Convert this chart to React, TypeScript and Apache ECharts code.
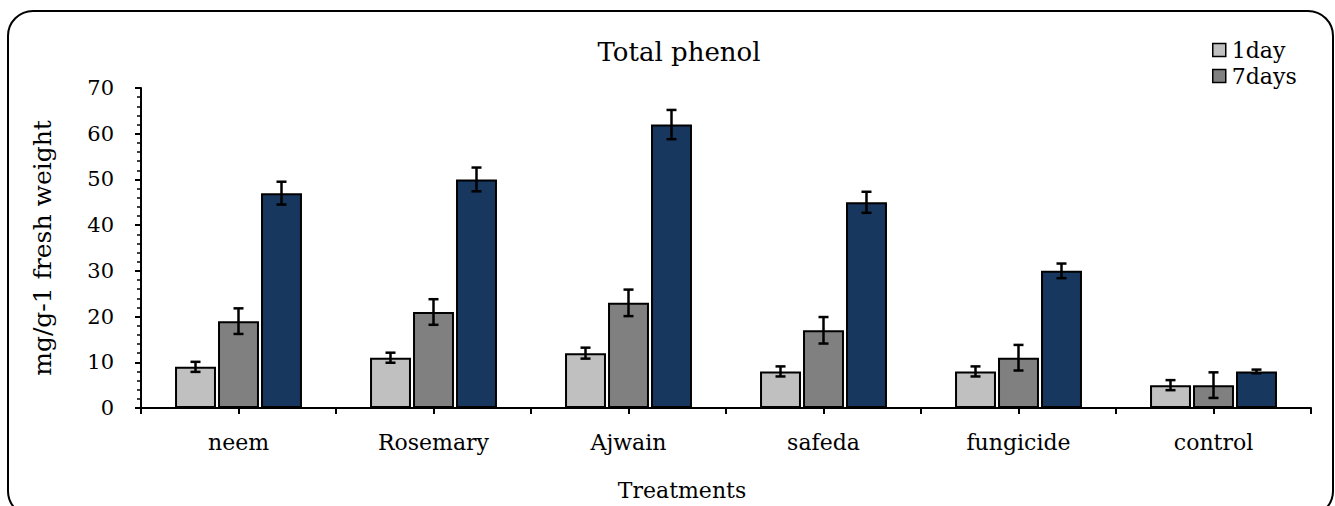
import React, { useEffect, useRef } from "react";
import * as echarts from "echarts";

const categories = ["neem", "Rosemary", "Ajwain", "safeda", "fungicide", "control"];
const seriesNames = ["1day", "7days", "14days"];
const day1 = [9, 11, 12, 8, 8, 5];
const day7 = [19, 21, 23, 17, 11, 5];
const day14 = [47, 50, 62, 45, 30, 8];
const err1 = [1.1, 1.1, 1.2, 1.1, 1.1, 1.1];
const err7 = [2.8, 2.8, 2.9, 2.9, 2.8, 2.8];
const err14 = [2.5, 2.6, 3.2, 2.3, 1.6, 0.4];
const colors = ["#C0C0C0", "#808080", "#17375E"];
const legendNames = ["1day", "7days"];
const yTicks = { min: 0, max: 70, interval: 10 };

const FONT = "DejaVu Serif";
const BAR_W = 0.21;
const BAR_GAP = 0.05;

export default function App() {
  const ref = useRef<HTMLDivElement>(null);
  useEffect(() => {
    if (!ref.current) return;
    const chart = echarts.init(ref.current, undefined, { renderer: "svg" });
    const values = [day1, day7, day14];
    const errs = [err1, err7, err14];
    const halfSlots = categories.flatMap((c) => [c + "-a", c + "-b"]);

    const barSeries = seriesNames.map((name, i) => ({
      name,
      type: "bar",
      xAxisIndex: 0,
      barWidth: BAR_W * 100 + "%",
      barGap: BAR_GAP * 100 + "%",
      data: values[i],
      itemStyle: { color: colors[i], borderColor: "#000", borderWidth: 2 },
      z: 2,
    }));

    const errSeries = seriesNames.map((name, i) => ({
      name: name + " error",
      type: "custom",
      xAxisIndex: 0,
      z: 5,
      silent: true,
      data: values[i].map((v, k) => [k, v, errs[i][k]]),
      encode: { x: 0, y: 1 },
      renderItem: (params: any, api: any) => {
        const ci = api.value(0);
        const v = api.value(1);
        const e = api.value(2);
        const catW = api.size([1, 0])[0];
        const bw = catW * BAR_W;
        const g = bw * BAR_GAP;
        const x = api.coord([ci, v])[0] + (i - 1) * (bw + g);
        const yTop = api.coord([ci, v + e])[1];
        const yBot = api.coord([ci, v - e])[1];
        const cap = 5;
        const style = { stroke: "#000", lineWidth: 2.5 };
        return {
          type: "group",
          children: [
            { type: "line", shape: { x1: x, y1: yTop, x2: x, y2: yBot }, style },
            { type: "line", shape: { x1: x - cap, y1: yTop, x2: x + cap, y2: yTop }, style },
            { type: "line", shape: { x1: x - cap, y1: yBot, x2: x + cap, y2: yBot }, style },
          ],
        };
      },
    }));

    chart.setOption({
      animation: false,
      textStyle: { fontFamily: FONT, color: "#000" },
      title: {
        text: "Total phenol",
        left: 674,
        textAlign: "center",
        top: 34,
        textStyle: { fontFamily: FONT, fontSize: 26, fontWeight: "normal", color: "#000" },
      },
      legend: {
        data: legendNames,
        orient: "vertical",
        left: 1207,
        top: 34,
        icon: "rect",
        itemWidth: 13,
        itemHeight: 13,
        itemGap: 4,
        textStyle: { fontFamily: FONT, fontSize: 22, color: "#000", padding: [0, 0, 0, 1] },
        itemStyle: { borderColor: "#000", borderWidth: 1.5 },
      },
      grid: { left: 141, right: 24, top: 88, bottom: 98 },
      xAxis: [
        {
          type: "category",
          data: categories,
          axisLine: { show: true, lineStyle: { color: "#000", width: 2 } },
          axisTick: { show: false },
          axisLabel: { fontFamily: FONT, fontSize: 22, color: "#000", margin: 23 },
        },
        {
          type: "category",
          data: halfSlots,
          position: "bottom",
          axisLine: { show: false },
          axisTick: { show: true, length: 6, lineStyle: { color: "#000", width: 2 } },
          axisLabel: { show: false },
        },
      ],
      yAxis: {
        type: "value",
        min: yTicks.min,
        max: yTicks.max,
        interval: yTicks.interval,
        name: "mg/g-1 fresh weight",
        nameLocation: "middle",
        nameGap: 86,
        nameTextStyle: { fontFamily: FONT, fontSize: 25, color: "#000" },
        axisLine: { show: true, lineStyle: { color: "#000", width: 2 } },
        axisTick: { show: true, length: 6, lineStyle: { color: "#000", width: 2 } },
        minorTick: { show: true, splitNumber: 5, length: 4, lineStyle: { color: "#000", width: 1.5 } },
        splitLine: { show: false },
        axisLabel: { fontFamily: FONT, fontSize: 21, color: "#000", margin: 27 },
      },
      graphic: [
        {
          type: "rect",
          shape: { x: 8, y: 11, width: 1325, height: 505, r: 25 },
          style: { fill: "none", stroke: "#000", lineWidth: 2 },
          silent: true,
          z: -1,
        },
        {
          type: "text",
          x: 682,
          y: 490,
          style: {
            text: "Treatments",
            font: `22px "${FONT}"`,
            fill: "#000",
            align: "center",
            verticalAlign: "middle",
          },
        },
      ],
      series: [...barSeries, ...errSeries],
    });
    return () => chart.dispose();
  }, []);
  return (
    <div
      ref={ref}
      style={{ position: "fixed", left: 0, top: 0, width: 1335, height: 506, background: "#fff" }}
    />
  );
}
